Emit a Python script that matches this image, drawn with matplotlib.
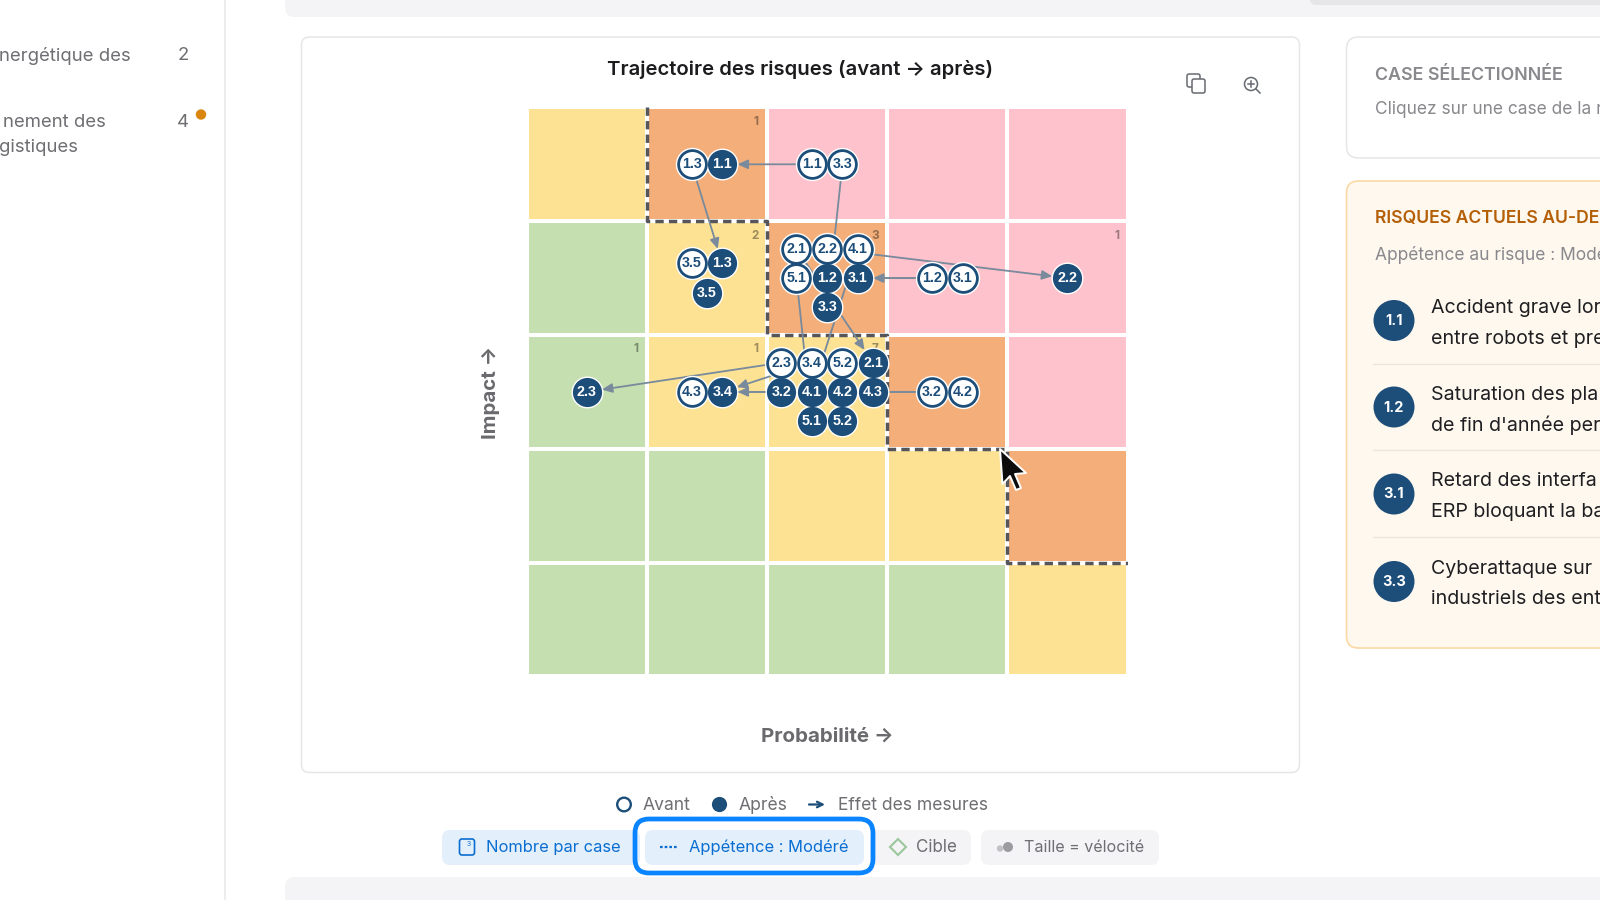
import math
import matplotlib
matplotlib.use("Agg")
import matplotlib.pyplot as plt
from matplotlib.colors import ListedColormap
from matplotlib.patches import FancyBboxPatch, Circle, Polygon, Rectangle

plt.rcParams['font.family'] = ['Inter', 'DejaVu Sans']

# ---------- data ----------
title = "Trajectoire des risques (avant → après)"
x_label = "Probabilité →"
y_label = "Impact →"
# zone code per cell, top impact row first: 0 green, 1 yellow, 2 orange, 3 pink
zones = [
    [1, 2, 3, 3, 3],
    [0, 1, 2, 3, 3],
    [0, 1, 1, 2, 3],
    [0, 0, 1, 1, 2],
    [0, 0, 0, 0, 1],
]
zone_colors = ["#c5dfb0", "#fde294", "#f3ae7a", "#fec2cc"]
risk_ids = ["1.1", "1.2", "1.3", "2.1", "2.2", "2.3", "3.1", "3.2",
            "3.3", "3.4", "3.5", "4.1", "4.2", "4.3", "5.1", "5.2"]
before_prob = [3, 4, 2, 3, 3, 3, 4, 4, 3, 3, 2, 3, 4, 2, 3, 3]
before_imp = [5, 4, 5, 4, 4, 3, 4, 3, 5, 3, 4, 4, 3, 3, 4, 3]
after_prob = [2, 3, 2, 3, 5, 1, 3, 3, 3, 2, 2, 3, 3, 3, 3, 3]
after_imp = [5, 4, 4, 3, 4, 3, 4, 3, 4, 3, 4, 3, 3, 3, 3, 3]
extra_links = [("3.2", "3.4")]
# appetite staircase: probability edge, impact edge
appetite_x = [1, 1, 2, 2, 3, 3, 4, 4, 5]
appetite_y = [5, 4, 4, 3, 3, 2, 2, 1, 1]
alert_ids = ["1.1", "1.2", "3.1", "3.3"]
alert_lines = [("Accident grave lor", "entre robots et pre"),
               ("Saturation des pla", "de fin d'année per"),
               ("Retard des interfa", "ERP bloquant la ba"),
               ("Cyberattaque sur", "industriels des ent")]

NAVY = "#1d4e79"
GREY = "#6e6e73"
BLUE = "#0a6ed1"

fig = plt.figure(figsize=(16, 9), dpi=100, facecolor="white")
bg = fig.add_axes([0, 0, 1, 1], zorder=0)
bg.set_xlim(0, 1600); bg.set_ylim(900, 0); bg.axis("off")


def box(a, x0, y0, x1, y1, r=8, fc="white", ec="none", lw=1.0, z=1):
    a.add_patch(FancyBboxPatch((x0, y0), x1 - x0, y1 - y0,
                               boxstyle=f"round,pad=0,rounding_size={r}",
                               fc=fc, ec=ec, lw=lw, zorder=z))


def txt(x, y, s, size_px, color=GREY, ha="left", weight="normal", **kw):
    bg.text(x, y + 1.5, s, fontsize=size_px * 0.72, color=color, ha=ha, va="center",
            fontweight=weight, **kw)


# ---------- page chrome ----------
bg.add_patch(Rectangle((224, 0), 2, 900, fc="#ececee", ec="none"))
box(bg, 285, -20, 1640, 17, r=10, fc="#f4f4f6")
box(bg, 1310, -20, 1640, 5, r=6, fc="#e6e6e9", z=1.5)
box(bg, 285, 877, 1640, 930, r=10, fc="#f4f4f6")
# sidebar
txt(131, 54.5, "nergétique des", 18.5, ha="right")
txt(189, 54.5, "2", 18.5, ha="right")
txt(105.5, 121, "nement des", 18.5, ha="right")
txt(78, 146, "gistiques", 18.5, ha="right")
txt(189, 121, "4", 18.5, ha="right")
bg.add_patch(Circle((201, 114.5), 5.2, fc="#d9860f", ec="none"))

# chart card
box(bg, 301.5, 37, 1299.5, 772.5, r=8, ec="#e6e6e9", lw=1.1)
# copy icon
box(bg, 1187, 74, 1200, 87, r=2, ec="#666a70", lw=1.1, fc="none")
box(bg, 1192, 79, 1205, 93, r=2, ec="#666a70", lw=1.1, fc="white", z=1.2)
# zoom icon
bg.add_patch(Circle((1251, 84), 6.5, fc="none", ec="#666a70", lw=1.1, zorder=2))
bg.plot([1256, 1260], [89, 93], color="#666a70", lw=1.1)
bg.plot([1248, 1254], [84, 84], color="#666a70", lw=1.1)
bg.plot([1251, 1251], [81, 87], color="#666a70", lw=1.1)

# right column
box(bg, 1346.5, 37, 1660, 158, r=12, ec="#e6e6e9", lw=1.1)
txt(1375, 73.5, "CASE SÉLECTIONNÉE", 17.8, color="#88888d", weight="semibold")
txt(1375, 108.5, "Cliquez sur une case de la r", 17.3, color="#88888d")
box(bg, 1346.5, 181, 1660, 648, r=12, fc="#fef8ef", ec="#fbd9a5", lw=1.2)
txt(1375, 217.5, "RISQUES ACTUELS AU-DE", 17.6, color="#b45f06", weight="semibold")
txt(1375, 253, "Appétence au risque : Modé", 17.4, color="#88888d")
item_y = [320.5, 407, 494, 581.5]
for i, (rid, (l1, l2), cy) in enumerate(zip(alert_ids, alert_lines, item_y)):
    bg.add_patch(Circle((1394, cy), 20.5, fc=NAVY, ec="none", zorder=2))
    bg.text(1394, cy + 0.5, rid, fontsize=10.5, fontweight="bold", color="white",
            ha="center", va="center", zorder=3)
    txt(1431, cy - 14, l1, 19.6, color="#1f1f22")
    txt(1431, cy + 16.5, l2, 19.6, color="#1f1f22")
    if i < 3:
        bg.plot([1373, 1600], [cy + 43, cy + 43], color="#ece6dc", lw=1.0)

# legend row
bg.add_patch(Circle((624, 804.5), 6.8, fc="white", ec=NAVY, lw=1.7, zorder=2))
txt(643, 804, "Avant", 17.5)
bg.add_patch(Circle((719.5, 804.5), 7.6, fc=NAVY, ec="none", zorder=2))
txt(739, 804, "Après", 17.5)
bg.annotate("", xy=(825, 804.5), xytext=(809, 804.5),
            arrowprops=dict(arrowstyle="->", color=NAVY, lw=1.6, mutation_scale=10,
                            shrinkA=0, shrinkB=0))
txt(838, 804, "Effet des mesures", 17.5)

# chips
box(bg, 442, 830, 640, 865, r=8, fc="#e3effb")
box(bg, 645, 830, 864, 865, r=8, fc="#e3effb")
box(bg, 870, 830, 971, 865, r=8, fc="#f4f4f6")
box(bg, 981, 830, 1159, 865, r=8, fc="#f4f4f6")
box(bg, 635, 819, 873, 873, r=14, fc="none", ec="#0a84ff", lw=3.4, z=1.6)
box(bg, 459.5, 839, 474.5, 855, r=2.5, ec=BLUE, lw=1.2, fc="none", z=2)
bg.text(469, 843.5, "3", fontsize=5, color=BLUE, ha="center", va="center")
txt(486, 846, "Nombre par case", 16.5, color=BLUE)
bg.plot([660, 678], [847, 847], color=BLUE, lw=1.6, ls=(0, (1.2, 0.9)), zorder=3)
txt(689, 846, "Appétence : Modéré", 16.5, color=BLUE)
bg.add_patch(Polygon([(898, 839), (906, 847), (898, 855), (890, 847)], closed=True,
                     fc="none", ec="#9cc79c", lw=1.5, zorder=3))
txt(916, 846, "Cible", 17)
bg.add_patch(Circle((1000, 848.5), 3.2, fc="#c2c2c6", ec="none", zorder=3))
bg.add_patch(Circle((1008, 847), 5, fc="#9c9ca0", ec="none", zorder=3))
txt(1023.5, 846, "Taille = vélocité", 16.1)

# ---------- matrix ----------
L, R, T, B = 526.75, 1127.5, 107.4, 676.4
ax = fig.add_axes([L / 1600, 1 - B / 900, (R - L) / 1600, (B - T) / 900], zorder=1)
ax.patch.set_alpha(0)
ax.set_xlim(0, 5); ax.set_ylim(0, 5)
for s in ax.spines.values():
    s.set_visible(False)
ax.set_xticks([]); ax.set_yticks([])
ax.pcolormesh(range(6), range(6), zones[::-1], cmap=ListedColormap(zone_colors),
              vmin=-0.5, vmax=3.5, edgecolors="white", linewidth=1.7)
ax.plot(appetite_x, appetite_y, color="#55555a", lw=2.5, ls=(0, (2.4, 1.5)), zorder=3,
        dash_capstyle="butt")
ax.set_title(title, x=(800 - L) / (R - L), pad=23.5, fontsize=14.6, fontweight="semibold",
             color="#1c1c1e")
ax.set_xlabel(x_label, fontsize=14.8, fontweight="bold", color="#6a6a6e")
ax.xaxis.set_label_coords(0.5, -0.0905)
ax.set_ylabel(y_label, fontsize=14.8, fontweight="bold", color="#6a6a6e")
ax.yaxis.set_label_coords(-0.0445, 0.5)

# group the markers of each cell: "before" ones first, then "after"
cells = {}
for i, rid in enumerate(risk_ids):
    cells.setdefault((before_prob[i], before_imp[i]), []).append(("b", rid))
for i, rid in enumerate(risk_ids):
    cells.setdefault((after_prob[i], after_imp[i]), []).append(("a", rid))

STEP_X, STEP_Y = 0.255, 0.257
pos = {}
for (p, im), items in cells.items():
    n = len(items)
    ncol = math.ceil(math.sqrt(n))
    nrow = math.ceil(n / ncol)
    for k, key in enumerate(items):
        r, c = divmod(k, ncol)
        in_row = min(ncol, n - r * ncol)
        pos[key] = (p - 0.5 + (c - (in_row - 1) / 2) * STEP_X,
                    im - 0.5 - (r - (nrow - 1) / 2) * STEP_Y)


def link(a, b):
    ax.annotate("", xy=pos[b], xytext=pos[a], zorder=4,
                arrowprops=dict(arrowstyle="-|>,head_length=0.55,head_width=0.25",
                                color="#788a9c", lw=1.3, mutation_scale=11,
                                shrinkA=11, shrinkB=11))


for i, rid in enumerate(risk_ids):
    if (before_prob[i], before_imp[i]) != (after_prob[i], after_imp[i]) or rid == "5.2":
        link(("b", rid), ("a", rid))
for a, b in extra_links:
    link(("a", a), ("a", b))

for key, (x, y) in pos.items():
    before = key[0] == "b"
    ax.scatter([x], [y], s=(24.0 if before else 23.0) ** 2, color="white", zorder=5, linewidths=0)
    ax.scatter([x], [y], s=(20.0 if before else 21.0) ** 2,
               color="white" if before else NAVY,
               edgecolors=NAVY, linewidths=2.0 if before else 0, zorder=6)
    ax.text(x, y, key[1], fontsize=10.3, fontweight="bold", ha="center", va="center",
            color=NAVY if before else "white", zorder=7,
            family=["Liberation Sans", "DejaVu Sans"])

# per-cell count of "after" risks
counts = {}
for p, im in zip(after_prob, after_imp):
    counts[(p, im)] = counts.get((p, im), 0) + 1
for (p, im), n in counts.items():
    ax.annotate(str(n), xy=(p, im), xytext=(-6, -6), textcoords="offset points",
                ha="right", va="top", fontsize=8.5, fontweight="bold",
                color="#000000", alpha=0.38, zorder=4.5)

# ---------- pointer on top ----------
top = fig.add_axes([0, 0, 1, 1], zorder=2)
top.set_xlim(0, 1600); top.set_ylim(900, 0); top.axis("off"); top.patch.set_alpha(0)
top.add_patch(Polygon([(1000, 449), (1002.5, 484), (1010, 476), (1016, 490), (1021, 488),
                       (1015, 474), (1026, 473)], closed=True,
                      fc="#0c0c0c", ec="white", lw=1.4, joinstyle="round"))

fig.savefig("out.png", dpi=100)
